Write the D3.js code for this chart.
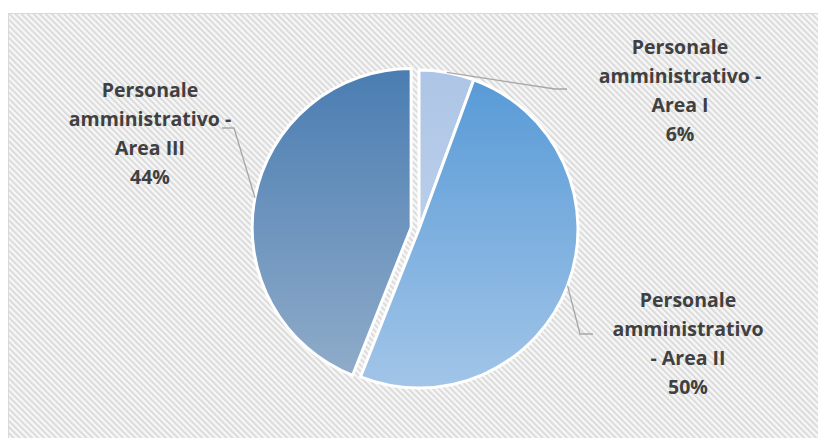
<!DOCTYPE html>
<html>
<head>
<meta charset="utf-8">
<script src="https://cdn.jsdelivr.net/npm/d3@7"></script>
<style>
  html, body { margin: 0; padding: 0; background: #fff; }
  svg { display: block; }
</style>
</head>
<body>
<svg id="chart" width="818" height="438"></svg>
<script>
// dati
const categories = ["Personale amministrativo - Area I", "Personale amministrativo - Area II", "Personale amministrativo - Area III"];
const values = [5.6, 50.4, 44.0];
const percentLabels = ["6%", "50%", "44%"];
const labelLines = [
  ["Personale", "amministrativo -", "Area I"],
  ["Personale", "amministrativo", "- Area II"],
  ["Personale", "amministrativo -", "Area III"]
];
const exploded = [0, 0, 1];

// colori (gradiente alto -> basso)
const colTop = ["#adc5e6", "#5699d6", "#4a7db2"];
const colBot = ["#c8d8ee", "#a2c5e8", "#92adca"];

// posizione etichette e linee guida
const labelLayout = [
  { x: 680, y: 47, p1: [555, 89], p2: [567, 89] },
  { x: 688, y: 300, p1: [580, 334], p2: [593, 334] },
  { x: 150, y: 90, p1: [234, 128], p2: [222, 128] }
];

const svg = d3.select("#chart");
const cx = 419, cy = 229, r = 159, explodeDist = 8;

const defs = svg.append("defs");

// sfondo a righe diagonali
const pat = defs.append("pattern")
  .attr("id", "hatch")
  .attr("patternUnits", "userSpaceOnUse")
  .attr("width", 4.3).attr("height", 4.3)
  .attr("patternTransform", "rotate(-45)");
pat.append("rect").attr("width", 4.3).attr("height", 4.3).attr("fill", "#f7f7f7");
pat.append("rect").attr("width", 2).attr("height", 4.3).attr("fill", "#dbdbdb");

svg.append("rect")
  .attr("x", 8.5).attr("y", 13.5)
  .attr("width", 830).attr("height", 450)
  .attr("fill", "url(#hatch)")
  .attr("stroke", "#d9d9d9")
  .attr("stroke-width", 1);

// gradiente verticale, nelle coordinate locali della torta
categories.forEach((c, i) => {
  const g = defs.append("linearGradient")
    .attr("id", "grad" + i)
    .attr("gradientUnits", "userSpaceOnUse")
    .attr("x1", 0).attr("x2", 0)
    .attr("y1", -r).attr("y2", r);
  g.append("stop").attr("offset", "0%").attr("stop-color", colTop[i]);
  g.append("stop").attr("offset", "100%").attr("stop-color", colBot[i]);
});

const pie = d3.pie().sort(null).value(d => d);
const arcs = pie(values);
const arc = d3.arc().innerRadius(0).outerRadius(r);

const offset = (d, i) => {
  const a = (d.startAngle + d.endAngle) / 2;
  const k = exploded[i] ? explodeDist : 0;
  return [Math.sin(a) * k, -Math.cos(a) * k];
};

const pieG = svg.append("g").attr("transform", `translate(${cx},${cy})`);

pieG.selectAll("path.slice")
  .data(arcs)
  .join("path")
  .attr("class", "slice")
  .attr("transform", (d, i) => { const o = offset(d, i); return `translate(${o[0]},${o[1]})`; })
  .attr("d", arc)
  .attr("fill", (d, i) => `url(#grad${i})`)
  .attr("stroke", "#fff")
  .attr("stroke-width", 3)
  .attr("stroke-linejoin", "round");

// linee guida
arcs.forEach((d, i) => {
  const o = offset(d, i);
  const a = (d.startAngle + d.endAngle) / 2;
  const sx = cx + o[0] + Math.sin(a) * r;
  const sy = cy + o[1] - Math.cos(a) * r;
  const L = labelLayout[i];
  svg.append("polyline")
    .attr("points", [[sx, sy], L.p1, L.p2].map(p => p.join(",")).join(" "))
    .attr("fill", "none")
    .attr("stroke", "#a6a6a6")
    .attr("stroke-width", 1.3);
});

// etichette
arcs.forEach((d, i) => {
  const L = labelLayout[i];
  const lines = labelLines[i].concat([percentLabels[i]]);
  const t = svg.append("text")
    .attr("text-anchor", "middle")
    .attr("font-family", "'Open Sans', sans-serif")
    .attr("font-weight", "bold")
    .attr("font-size", 19.5)
    .attr("fill", "#404040");
  lines.forEach((s, j) => {
    t.append("tspan")
      .attr("x", L.x)
      .attr("y", L.y + j * 29)
      .attr("dy", "0.35em")
      .text(s);
  });
});
</script>
</body>
</html>
